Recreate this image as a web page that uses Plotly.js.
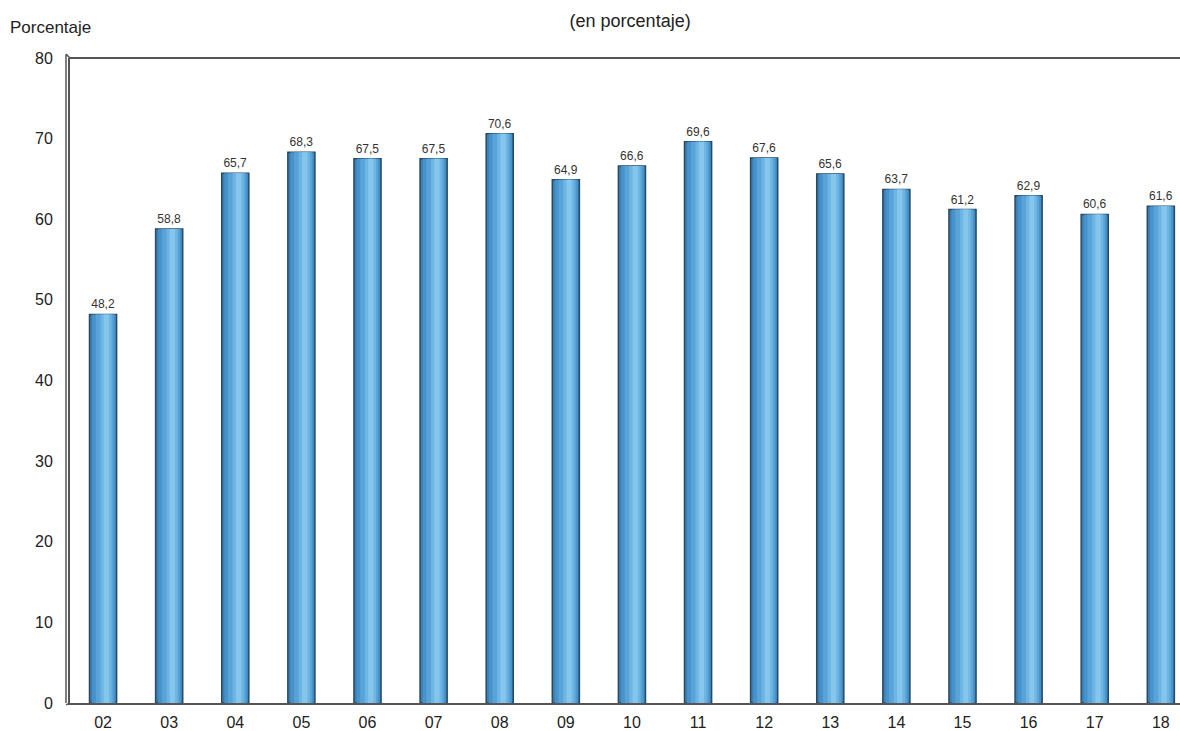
<!DOCTYPE html>
<html><head><meta charset="utf-8">
<script src="https://cdn.plot.ly/plotly-3.0.1.min.js"></script>
<style>html,body{margin:0;padding:0;overflow:hidden;background:#fff}#c{width:1180px;height:731px}</style>
</head><body><div id="c"></div>
<script>
var categories = ["02","03","04","05","06","07","08","09","10","11","12","13","14","15","16","17","18"];
var values = [48.2,58.8,65.7,68.3,67.5,67.5,70.6,64.9,66.6,69.6,67.6,65.6,63.7,61.2,62.9,60.6,61.6];
var yTicks = [0,10,20,30,40,50,60,70,80];
var titleText = "(en porcentaje)";
var yLabel = "Porcentaje";

var FONT = '"Liberation Sans",Arial,sans-serif';
var labels = values.map(function(v){return v.toFixed(1).replace('.', ',');});

function layerTrace(width, offset, color, line, withText){
  return {
    type:'bar', x:categories, y:values, width:width, offset:offset,
    marker:{color:color, line:{color:line?'#2a4a60':'rgba(0,0,0,0)', width:line?1.5:0}},
    text: withText?labels:undefined, textposition: withText?'outside':'none',
    textfont:{family:FONT,size:12,color:'#333'}, cliponaxis:false,
    hoverinfo:'skip', showlegend:false
  };
}
var traces = [
  layerTrace(0.41, -0.205, '#3a80b8', true, true),
  layerTrace(0.35, -0.165, '#4792ca', false, false),
  layerTrace(0.27, -0.11, '#58a3d7', false, false),
  layerTrace(0.17, -0.04, '#6db5e2', false, false),
  layerTrace(0.08, 0.01, '#86c6ec', false, false)
];

var layout = {
  width:1180, height:731,
  margin:{l:70, r:0, t:58, b:28},
  paper_bgcolor:'#fff', plot_bgcolor:'#fff',
  barmode:'overlay',
  font:{family:FONT, color:'#222'},
  title:{text:titleText, x:0.534, xref:'container', y:0.972, yref:'container', yanchor:'middle', font:{family:FONT,size:18,color:'#222'}},
  xaxis:{type:'category', range:[-0.5,16.29], showline:true, linecolor:'#555', linewidth:2, mirror:false,
    showgrid:false, ticks:'', tickfont:{family:FONT,size:16,color:'#222'}, ticklabelstandoff:4, fixedrange:true},
  yaxis:{range:[0,80], tickvals:yTicks, showline:true, linecolor:'#555', linewidth:2, showgrid:false, zeroline:false,
    ticks:'', tickfont:{family:FONT,size:16,color:'#222'}, ticklabelstandoff:12, fixedrange:true},
  shapes:[
    {type:'line', xref:'paper', yref:'paper', x0:0, x1:1, y0:1, y1:1, line:{color:'#555', width:2}},
    {type:'line', xref:'paper', yref:'paper', x0:-4/1110, x1:-4/1110, y0:0, y1:1.006, line:{color:'#555', width:1.5}},
    {type:'line', xref:'paper', yref:'paper', x0:-4/1110, x1:0, y0:1.006, y1:1, line:{color:'#555', width:1.5}},
    {type:'line', xref:'paper', yref:'paper', x0:-4/1110, x1:0, y0:-0.003, y1:0, line:{color:'#555', width:1.5}}
  ],
  annotations:[
    {text:yLabel, xref:'paper', yref:'paper', x:-62/1110, y:1+30/645, xanchor:'left', yanchor:'middle', showarrow:false,
     font:{family:FONT,size:17,color:'#222'}}
  ]
};
Plotly.newPlot('c', traces, layout, {displayModeBar:false, staticPlot:true});
</script></body></html>
